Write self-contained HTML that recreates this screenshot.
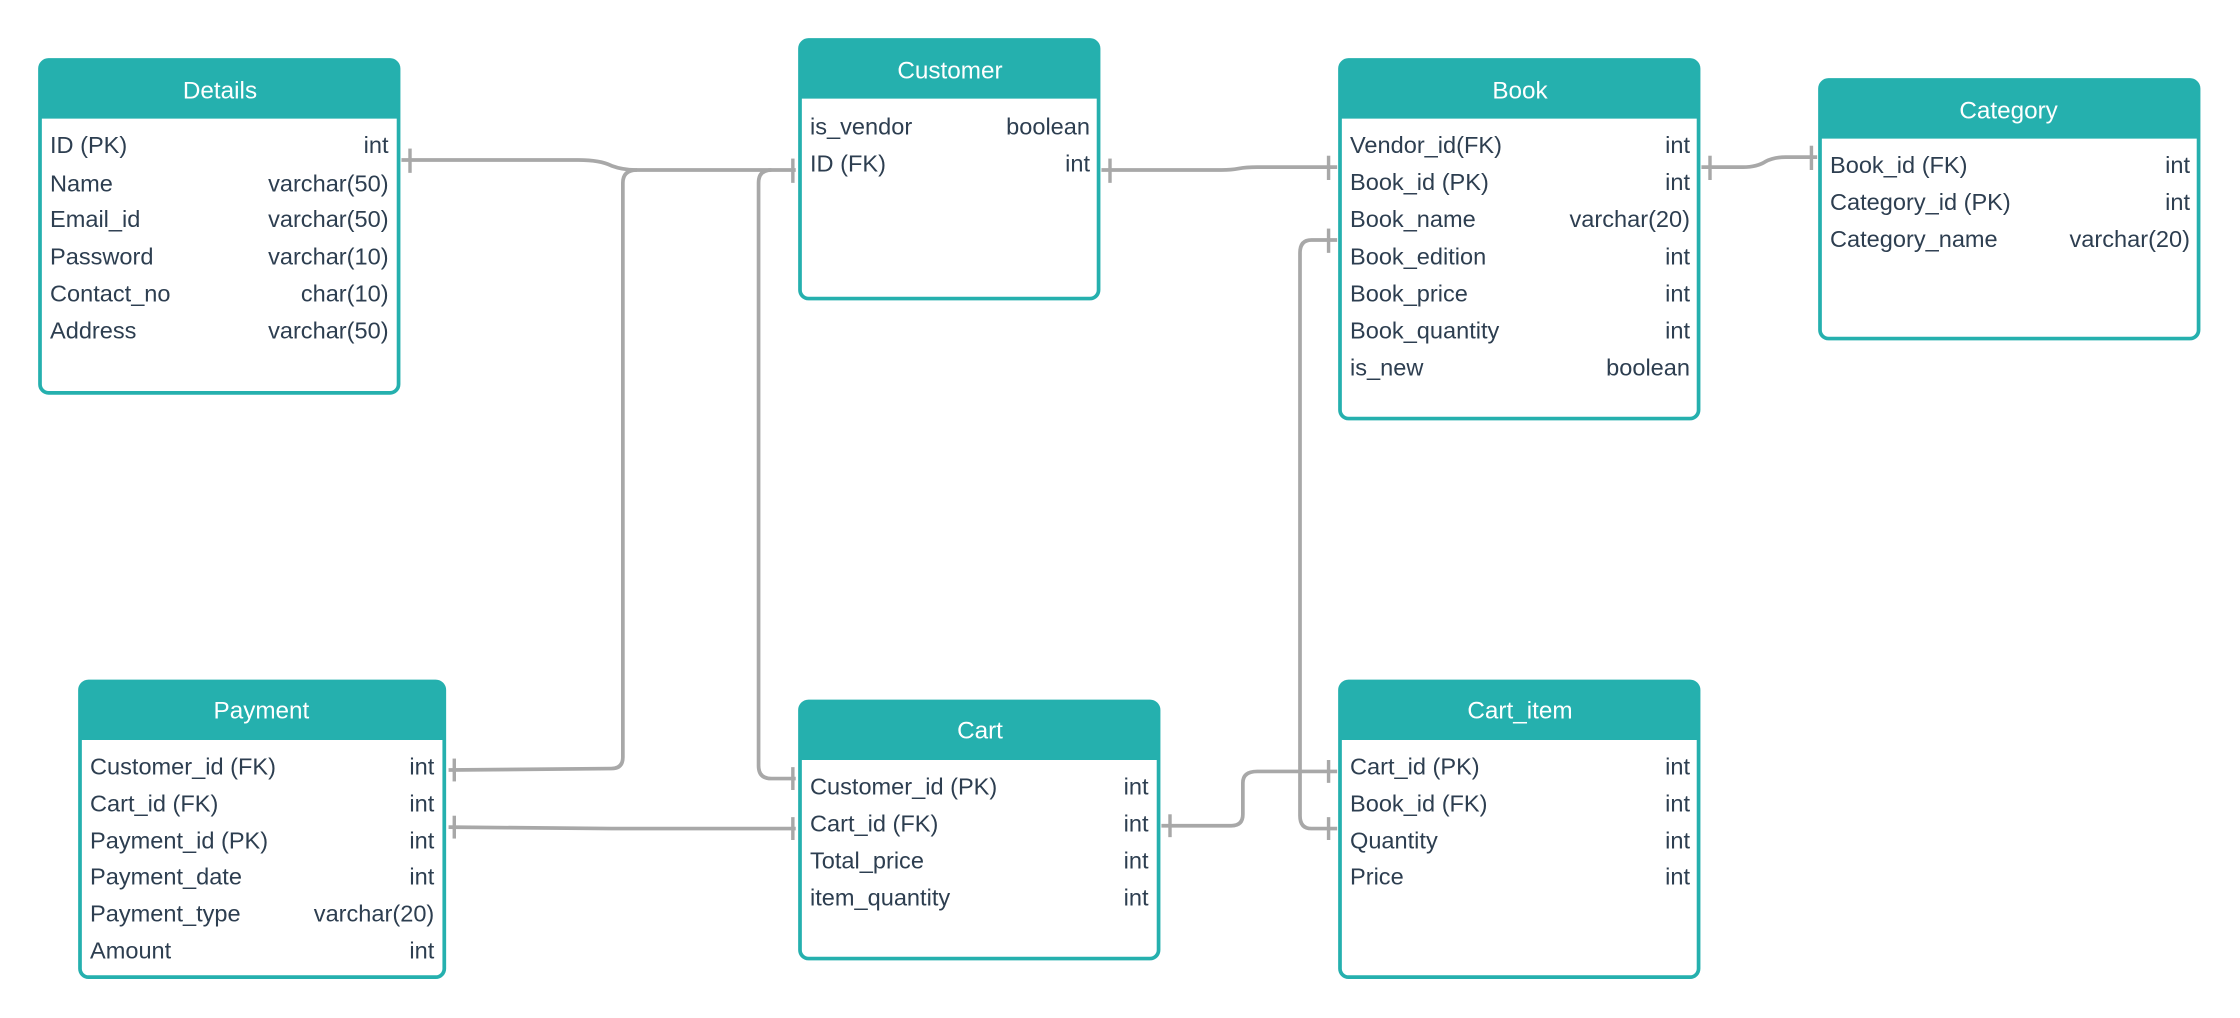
<!DOCTYPE html>
<html><head><meta charset="utf-8"><style>
html,body{margin:0;padding:0;background:#fff;width:2240px;height:1018px;overflow:hidden}
svg text{font-family:"Liberation Sans",sans-serif}
.h{fill:#fff;font-size:17px;text-anchor:middle}
.r{fill:#2d3e50;font-size:16.5px}
.t{fill:#2d3e50;font-size:16.5px;text-anchor:end}
.c{fill:none;stroke:#a8a8a8;stroke-width:2.6}
</style></head><body>
<svg width="2240" height="1018" viewBox="0 0 1568 712.6" xmlns="http://www.w3.org/2000/svg">
<defs>
<g id="x"></g>
</defs>
<!-- connectors -->
<path class="c" d="M281 112 H405 Q420 112 428 116 Q436 119 446 119 H557"/>
<path class="c" d="M314 539 L428 538 Q436 538 436 530 V128 Q436 119 446 119"/>
<path class="c" d="M557 545 H540 Q531 545 531 536 V128 Q531 119 540 119"/>
<path class="c" d="M771 119 H855 Q862 119 867 118 Q872 117 880 117 H936"/>
<path class="c" d="M1191 117 H1220 Q1230 117 1236 113 Q1242 110 1250 110 H1272"/>
<path class="c" d="M314 579 L428 580 H557"/>
<path class="c" d="M813 578 H862 Q870 578 870 570 V548 Q870 540 880 540 H936"/>
<path class="c" d="M936 580 H918 Q910 580 910 571 V177 Q910 168 918 168 H936"/>
<g stroke="#a8a8a8" stroke-width="2.4">
<line x1="287" y1="104" x2="287" y2="121"/>
<line x1="555" y1="111" x2="555" y2="128"/>
<line x1="555" y1="537" x2="555" y2="553"/>
<line x1="777" y1="111" x2="777" y2="128"/>
<line x1="930" y1="109" x2="930" y2="126"/>
<line x1="1197" y1="109" x2="1197" y2="126"/>
<line x1="1268" y1="102" x2="1268" y2="119"/>
<line x1="318" y1="531" x2="318" y2="547"/>
<line x1="318" y1="571" x2="318" y2="587"/>
<line x1="555" y1="572" x2="555" y2="588"/>
<line x1="819" y1="570" x2="819" y2="586"/>
<line x1="930" y1="532" x2="930" y2="548"/>
<line x1="930" y1="572" x2="930" y2="588"/>
<line x1="930" y1="160" x2="930" y2="177"/>
</g>
<!-- tables -->
<g>
<rect x="28" y="42" width="251" height="233" rx="6" fill="#fff" stroke="#25b0ae" stroke-width="2.6"/>
<path d="M28 83 V48 Q28 42 34 42 H273 Q279 42 279 48 V83 Z" fill="#25b0ae"/>
<text class="h" x="154" y="69">Details</text>
<text class="r" x="35" y="107">ID (PK)</text><text class="t" x="272" y="107">int</text>
<text class="r" x="35" y="134">Name</text><text class="t" x="272" y="134">varchar(50)</text>
<text class="r" x="35" y="159">Email_id</text><text class="t" x="272" y="159">varchar(50)</text>
<text class="r" x="35" y="185">Password</text><text class="t" x="272" y="185">varchar(10)</text>
<text class="r" x="35" y="211">Contact_no</text><text class="t" x="272" y="211">char(10)</text>
<text class="r" x="35" y="237">Address</text><text class="t" x="272" y="237">varchar(50)</text>
</g>
<g>
<rect x="560" y="28" width="209" height="181" rx="6" fill="#fff" stroke="#25b0ae" stroke-width="2.6"/>
<path d="M560 69 V34 Q560 28 566 28 H763 Q769 28 769 34 V69 Z" fill="#25b0ae"/>
<text class="h" x="665" y="55">Customer</text>
<text class="r" x="567" y="94">is_vendor</text><text class="t" x="763" y="94">boolean</text>
<text class="r" x="567" y="120">ID (FK)</text><text class="t" x="763" y="120">int</text>
</g>
<g>
<rect x="938" y="42" width="251" height="251" rx="6" fill="#fff" stroke="#25b0ae" stroke-width="2.6"/>
<path d="M938 83 V48 Q938 42 944 42 H1183 Q1189 42 1189 48 V83 Z" fill="#25b0ae"/>
<text class="h" x="1064" y="69">Book</text>
<text class="r" x="945" y="107">Vendor_id(FK)</text><text class="t" x="1183" y="107">int</text>
<text class="r" x="945" y="133">Book_id (PK)</text><text class="t" x="1183" y="133">int</text>
<text class="r" x="945" y="159">Book_name</text><text class="t" x="1183" y="159">varchar(20)</text>
<text class="r" x="945" y="185">Book_edition</text><text class="t" x="1183" y="185">int</text>
<text class="r" x="945" y="211">Book_price</text><text class="t" x="1183" y="211">int</text>
<text class="r" x="945" y="237">Book_quantity</text><text class="t" x="1183" y="237">int</text>
<text class="r" x="945" y="263">is_new</text><text class="t" x="1183" y="263">boolean</text>
</g>
<g>
<rect x="1274" y="56" width="265" height="181" rx="6" fill="#fff" stroke="#25b0ae" stroke-width="2.6"/>
<path d="M1274 97 V62 Q1274 56 1280 56 H1533 Q1539 56 1539 62 V97 Z" fill="#25b0ae"/>
<text class="h" x="1406" y="83">Category</text>
<text class="r" x="1281" y="121">Book_id (FK)</text><text class="t" x="1533" y="121">int</text>
<text class="r" x="1281" y="147">Category_id (PK)</text><text class="t" x="1533" y="147">int</text>
<text class="r" x="1281" y="173">Category_name</text><text class="t" x="1533" y="173">varchar(20)</text>
</g>
<g>
<rect x="56" y="477" width="255" height="207" rx="6" fill="#fff" stroke="#25b0ae" stroke-width="2.6"/>
<path d="M56 518 V483 Q56 477 62 477 H305 Q311 477 311 483 V518 Z" fill="#25b0ae"/>
<text class="h" x="183" y="503">Payment</text>
<text class="r" x="63" y="542">Customer_id (FK)</text><text class="t" x="304" y="542">int</text>
<text class="r" x="63" y="568">Cart_id (FK)</text><text class="t" x="304" y="568">int</text>
<text class="r" x="63" y="594">Payment_id (PK)</text><text class="t" x="304" y="594">int</text>
<text class="r" x="63" y="619">Payment_date</text><text class="t" x="304" y="619">int</text>
<text class="r" x="63" y="645">Payment_type</text><text class="t" x="304" y="645">varchar(20)</text>
<text class="r" x="63" y="671">Amount</text><text class="t" x="304" y="671">int</text>
</g>
<g>
<rect x="560" y="491" width="251" height="180" rx="6" fill="#fff" stroke="#25b0ae" stroke-width="2.6"/>
<path d="M560 532 V497 Q560 491 566 491 H805 Q811 491 811 497 V532 Z" fill="#25b0ae"/>
<text class="h" x="686" y="517">Cart</text>
<text class="r" x="567" y="556">Customer_id (PK)</text><text class="t" x="804" y="556">int</text>
<text class="r" x="567" y="582">Cart_id (FK)</text><text class="t" x="804" y="582">int</text>
<text class="r" x="567" y="608">Total_price</text><text class="t" x="804" y="608">int</text>
<text class="r" x="567" y="634">item_quantity</text><text class="t" x="804" y="634">int</text>
</g>
<g>
<rect x="938" y="477" width="251" height="207" rx="6" fill="#fff" stroke="#25b0ae" stroke-width="2.6"/>
<path d="M938 518 V483 Q938 477 944 477 H1183 Q1189 477 1189 483 V518 Z" fill="#25b0ae"/>
<text class="h" x="1064" y="503">Cart_item</text>
<text class="r" x="945" y="542">Cart_id (PK)</text><text class="t" x="1183" y="542">int</text>
<text class="r" x="945" y="568">Book_id (FK)</text><text class="t" x="1183" y="568">int</text>
<text class="r" x="945" y="594">Quantity</text><text class="t" x="1183" y="594">int</text>
<text class="r" x="945" y="619">Price</text><text class="t" x="1183" y="619">int</text>
</g>
</svg>
</body></html>
